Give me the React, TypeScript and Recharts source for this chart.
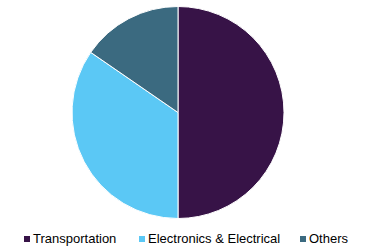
import React from "react";
import { PieChart, Pie, Cell, Legend } from "recharts";

const categories = ["Transportation", "Electronics & Electrical", "Others"];
const shares = [50, 34.6, 15.4];
const colors = ["#371347", "#5bc8f5", "#3b6a80"];
const legendLeft = [24, 139, 300];

const data = categories.map((name, i) => ({ name, value: shares[i] }));

const renderLegend = () => (
  <div style={{ position: "relative", width: 368, height: 20 }}>
    {categories.map((name, i) => (
      <div
        key={name}
        style={{
          position: "absolute",
          left: legendLeft[i],
          top: 0,
          display: "flex",
          alignItems: "center",
          fontFamily: "'Liberation Sans', Arial, sans-serif",
          fontSize: 13,
          color: "#000",
          whiteSpace: "nowrap",
        }}
      >
        <span
          style={{
            display: "inline-block",
            width: 6,
            height: 6,
            background: colors[i],
            marginRight: 3,
          }}
        />
        {name}
      </div>
    ))}
  </div>
);

const App: React.FC = () => {
  return (
    <div style={{ position: "absolute", left: 0, top: 0, width: 368, height: 251, background: "#fff" }}>
      <PieChart width={368} height={251} margin={{ top: 0, right: 0, bottom: 0, left: 0 }}>
        <Pie
          data={data}
          dataKey="value"
          nameKey="name"
          cx={178}
          cy={112.5}
          outerRadius={106}
          startAngle={90}
          endAngle={-270}
          stroke="#fff"
          strokeWidth={1}
          isAnimationActive={false}
        >
          {data.map((d, i) => (
            <Cell key={d.name} fill={colors[i]} />
          ))}
        </Pie>
        <Legend
          content={renderLegend}
          wrapperStyle={{ position: "absolute", left: 0, top: 231, width: 368 }}
        />
      </PieChart>
    </div>
  );
};

export default App;
